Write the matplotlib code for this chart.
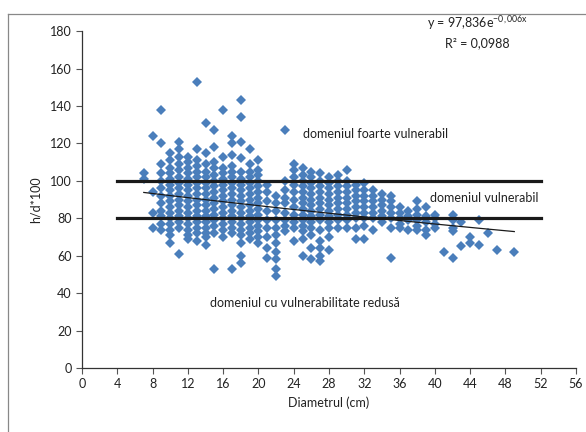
import numpy as np
import matplotlib
matplotlib.use("Agg")
import matplotlib.pyplot as plt
from matplotlib.lines import Line2D

plt.rcParams['font.family'] = ['Lato', 'DejaVu Sans']
plt.rcParams['mathtext.fontset'] = 'custom'
plt.rcParams['mathtext.rm'] = 'Lato'
plt.rcParams['mathtext.it'] = 'Lato'

# h/d*100 values, grouped by diameter (cm)
hd_by_diam = {
    7: [104, 101],
    8: [124, 94, 83, 75],
    9: [138, 120, 109, 104, 100, 96, 92, 88, 84, 81, 77, 74],
    10: [115, 111, 107, 104, 101, 98, 95, 92, 89, 86, 83, 80, 77, 74, 71, 67],
    11: [121, 117, 113, 109, 106, 102, 99, 96, 93, 90, 87, 84, 81, 78, 75, 61],
    12: [113, 110, 107, 104, 101, 98, 95, 92, 89, 86, 83, 80, 77, 74, 71, 69],
    13: [153, 117, 111, 108, 105, 102, 99, 96, 93, 90, 87, 84, 81, 78, 75, 72, 68],
    14: [131, 115, 109, 105, 102, 99, 96, 93, 90, 87, 84, 81, 78, 75, 72, 70, 66],
    15: [127, 118, 110, 107, 103, 100, 97, 94, 91, 88, 85, 82, 79, 76, 72, 53],
    16: [138, 113, 107, 104, 101, 98, 95, 92, 89, 86, 83, 80, 77, 74, 70],
    17: [124, 120, 114, 108, 105, 102, 99, 96, 93, 90, 87, 84, 81, 78, 75, 72, 53],
    18: [143, 134, 121, 112, 105, 101, 98, 95, 92, 89, 86, 83, 80, 77, 74, 71, 67, 60, 56],
    19: [117, 109, 105, 102, 99, 96, 93, 90, 87, 84, 81, 78, 75, 72, 69],
    20: [111, 106, 103, 100, 97, 94, 91, 88, 85, 82, 79, 76, 73, 70, 67],
    21: [98, 94, 89, 84, 79, 75, 70, 64, 59],
    22: [92, 88, 84, 79, 75, 71, 67, 62, 58, 53, 49],
    23: [127, 100, 95, 91, 88, 83, 79, 76, 73],
    24: [109, 106, 102, 98, 94, 90, 86, 82, 78, 75, 68],
    25: [107, 103, 100, 97, 94, 91, 88, 85, 82, 79, 76, 73, 69, 60],
    26: [105, 102, 99, 96, 93, 90, 87, 84, 81, 78, 75, 71, 64, 58],
    27: [104, 100, 97, 94, 91, 88, 85, 82, 79, 74, 68, 64, 60, 57],
    28: [102, 99, 96, 93, 90, 87, 84, 81, 78, 75, 70, 63],
    29: [103, 100, 97, 94, 91, 88, 85, 82, 79, 75],
    30: [106, 100, 97, 94, 91, 88, 85, 82, 79, 75],
    31: [98, 95, 92, 89, 86, 83, 80, 75, 69],
    32: [99, 95, 92, 89, 86, 83, 80, 76, 69],
    33: [95, 92, 89, 86, 83, 80, 74],
    34: [93, 90, 87, 84, 81, 78],
    35: [92, 89, 86, 83, 80, 75, 59],
    36: [86, 83, 80, 77, 75],
    37: [84, 81, 79, 74],
    38: [89, 85, 82, 79, 76, 74],
    39: [86, 81, 78, 74, 71],
    40: [82, 80, 77, 75],
    41: [62],
    42: [82, 79, 75, 73, 59],
    43: [78, 65],
    44: [70, 67],
    45: [79, 66],
    46: [72],
    47: [63],
    49: [62],
}

diam = np.array([d for d, vals in hd_by_diam.items() for v in vals])
hd = np.array([v for d, vals in hd_by_diam.items() for v in vals])

# exponential trend printed on the chart
trend_a = 97.836
trend_b = -0.006
trend_x = np.array([7, 49])

# class limits
limits = [80, 100]
limit_span = [4, 52]

fig = plt.figure(figsize=(5.86, 4.32), dpi=100)
ax = fig.add_axes([0.14, 0.148, 0.843, 0.78])

ax.plot(diam, hd, linestyle='none', marker='D', markersize=5.6,
        color='#4a7ebb', markeredgewidth=0, zorder=2)

for lim in limits:
    ax.plot(limit_span, [lim, lim], color='#1a1a1a', lw=2.3, zorder=3)

xx = np.linspace(trend_x[0], trend_x[1], 50)
ax.plot(xx, trend_a * np.exp(trend_b * xx), color='#1a1a1a', lw=0.9, zorder=4)

ax.set_xlim(0, 56)
ax.set_ylim(0, 180)
ax.set_xticks(np.arange(0, 57, 4))
ax.set_yticks(np.arange(0, 181, 20))
for s in ['top', 'right']:
    ax.spines[s].set_visible(False)
for s in ['left', 'bottom']:
    ax.spines[s].set_color('#333333')
    ax.spines[s].set_linewidth(0.9)
ax.tick_params(direction='out', length=4, width=0.8, color='#555555',
               labelsize=9, labelcolor='#222222')

ax.set_xlabel('Diametrul (cm)', fontsize=9, color='#222222', labelpad=4)
ax.set_ylabel('h/d*100', fontsize=9, color='#222222', labelpad=6)

ax.text(25.1, 125, 'domeniul foarte vulnerabil', fontsize=9, color='#222222', va='center')
ax.text(39.5, 91, 'domeniul vulnerabil', fontsize=9, color='#222222', va='center')
ax.text(14.5, 35, 'domeniul cu vulnerabilitate redusă', fontsize=9, color='#222222', va='center')

ax.text(44.8, 184.5, 'y = 97,836e$^{\\mathrm{-0,006x}}$', fontsize=9, color='#222222',
        ha='center', va='center', clip_on=False)
ax.text(44.8, 173.5, 'R² = 0,0988', fontsize=9, color='#222222',
        ha='center', va='center', clip_on=False)

# chart border (left and top edges visible)
fig.add_artist(Line2D([8 / 586, 8 / 586], [0, 1 - 14 / 432], color='#888888', lw=0.9))
fig.add_artist(Line2D([8 / 586, 1], [1 - 14 / 432, 1 - 14 / 432], color='#888888', lw=0.9))

fig.savefig('out.png', dpi=100)
